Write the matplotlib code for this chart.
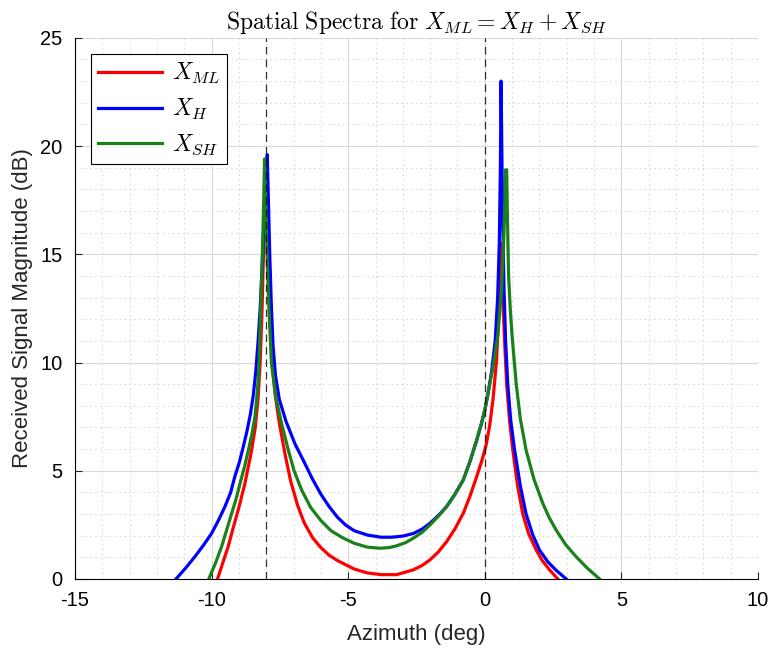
import matplotlib
matplotlib.use('Agg')
import matplotlib.pyplot as plt
from matplotlib.ticker import MultipleLocator

plt.rcParams['font.family'] = ['Liberation Sans', 'DejaVu Sans']
plt.rcParams['mathtext.fontset'] = 'cm'
plt.rcParams['axes.unicode_minus'] = False

# точки (азимут в градусах, уровень в дБ)
az_ml = [-9.78, -9.6, -9.39, -9.2, -9.0, -8.78, -8.54, -8.4, -8.3, -8.22, -8.15, -8.1,
         -8.04, -8.0, -7.96, -7.92, -7.86, -7.78, -7.68, -7.52, -7.3, -7.1, -6.85, -6.61,
         -6.3, -6.0, -5.7, -5.39, -4.78, -4.3, -3.8, -3.23, -2.62, -2.3, -2.01, -1.7,
         -1.4, -1.1, -0.79, -0.55, -0.3, -0.1, 0.05, 0.18, 0.3, 0.43, 0.5, 0.55,
         0.6, 0.64, 0.68, 0.73, 0.8, 0.9, 1.02, 1.2, 1.39, 1.6, 1.88, 2.1, 2.37, 2.67]
mag_ml = [0.0, 0.7, 1.5, 2.4, 3.3, 4.4, 5.9, 7.0, 8.3, 10.0, 12.5, 15.0,
          17.5, 18.3, 17.0, 14.5, 12.0, 10.0, 8.6, 7.2, 5.7, 4.5, 3.4, 2.6,
          1.9, 1.45, 1.1, 0.85, 0.46, 0.28, 0.2, 0.2, 0.42, 0.62, 0.88, 1.25,
          1.72, 2.3, 3.03, 3.8, 4.72, 5.5, 6.2, 7.1, 8.3, 10.1, 12.0, 14.0,
          15.5, 14.0, 12.3, 10.8, 9.0, 7.4, 6.0, 4.3, 3.0, 2.1, 1.34, 0.85, 0.42, 0.0]

az_h = [-11.3, -10.95, -10.61, -10.3, -10.0, -9.75, -9.51, -9.3, -9.15, -8.98, -8.84,
        -8.7, -8.58, -8.47, -8.38, -8.3, -8.22, -8.15, -8.08, -8.02, -7.96, -7.92,
        -7.87, -7.81, -7.75, -7.66, -7.52, -7.28, -6.95, -6.61, -6.3, -6.0, -5.7, -5.39,
        -5.1, -4.78, -4.3, -3.8, -3.4, -3.0, -2.62, -2.3, -2.01, -1.7, -1.4, -1.1,
        -0.79, -0.55, -0.3, -0.12, 0.0, 0.12, 0.25, 0.38, 0.47, 0.53, 0.57, 0.595,
        0.625, 0.655, 0.7, 0.76, 0.84, 0.95, 1.09, 1.3, 1.51, 1.75, 2.0, 2.3, 2.61, 2.98]
mag_h = [0.0, 0.5, 1.03, 1.55, 2.1, 2.7, 3.34, 4.0, 4.72, 5.4, 6.1,
         6.85, 7.6, 8.5, 9.6, 10.9, 12.5, 14.4, 16.5, 18.3, 19.6, 17.5,
         15.0, 12.6, 10.8, 9.4, 8.3, 7.3, 6.25, 5.4, 4.6, 3.92, 3.35, 2.85,
         2.5, 2.23, 2.03, 1.93, 1.93, 1.98, 2.1, 2.3, 2.57, 2.93, 3.34, 3.9,
         4.57, 5.4, 6.4, 7.2, 7.8, 8.57, 9.6, 11.0, 13.0, 15.5, 19.0, 23.0,
         19.5, 16.5, 13.5, 11.0, 9.0, 7.3, 5.95, 4.3, 3.0, 2.05, 1.34, 0.8, 0.4, 0.0]

az_sh = [-10.1, -9.85, -9.63, -9.45, -9.27, -9.1, -8.96, -8.8, -8.66, -8.52, -8.41,
         -8.32, -8.26, -8.2, -8.14, -8.09, -8.06, -8.02, -7.97, -7.9, -7.81, -7.66,
         -7.46, -7.2, -6.98, -6.7, -6.37, -6.0, -5.63, -5.2, -4.78, -4.3, -3.84, -3.5,
         -3.23, -2.9, -2.62, -2.3, -2.01, -1.7, -1.4, -1.1, -0.79, -0.55, -0.3, -0.12,
         0.0, 0.15, 0.3, 0.48, 0.62, 0.7, 0.74, 0.76, 0.8, 0.83, 0.87, 0.93, 1.0,
         1.15, 1.3, 1.51, 1.8, 2.12, 2.35, 2.61, 2.95, 3.34, 3.75, 4.2]
mag_sh = [0.0, 0.75, 1.5, 2.25, 3.0, 3.7, 4.4, 5.15, 5.9, 6.7, 7.5,
          8.7, 10.0, 12.5, 15.0, 17.5, 19.4, 17.5, 15.0, 12.5, 10.0, 8.5,
          7.3, 6.0, 5.0, 4.1, 3.3, 2.7, 2.23, 1.9, 1.65, 1.47, 1.42, 1.45,
          1.53, 1.68, 1.88, 2.15, 2.49, 2.9, 3.34, 3.9, 4.57, 5.4, 6.4, 7.2,
          7.8, 8.8, 9.8, 11.3, 13.5, 16.0, 17.8, 18.9, 18.9, 16.5, 14.0, 12.5, 11.2,
          9.0, 7.4, 5.95, 4.6, 3.5, 2.85, 2.26, 1.6, 1.03, 0.5, 0.0]

targets = [-8, 0]

fig = plt.figure(figsize=(7.72, 6.52), dpi=100)
ax = fig.add_axes([0.097, 0.112, 0.885, 0.830])

ax.plot(az_ml, mag_ml, color=(1, 0, 0), lw=2.3, label=r'$X_{ML}$')
ax.plot(az_h, mag_h, color=(0, 0, 1), lw=2.3, label=r'$X_H$')
ax.plot(az_sh, mag_sh, color=(0.1, 0.5, 0.1), lw=2.3, label=r'$X_{SH}$')
for t in targets:
    ax.axvline(t, color='k', ls=(0, (6, 4)), lw=0.9, alpha=0.8)

ax.set_xlim(-15, 10)
ax.set_ylim(0, 25)
ax.xaxis.set_major_locator(MultipleLocator(5))
ax.yaxis.set_major_locator(MultipleLocator(5))
ax.xaxis.set_minor_locator(MultipleLocator(1))
ax.yaxis.set_minor_locator(MultipleLocator(1))
ax.grid(True, which='major', color='#d9d9d9', lw=0.8)
ax.grid(True, which='minor', color='#dcdcdc', lw=0.7, ls=(0, (2, 3)))
ax.set_axisbelow(True)
ax.spines['top'].set_visible(False)
ax.spines['right'].set_visible(False)
ax.tick_params(which='both', direction='in', labelsize=14.5, color='#262626')
ax.tick_params(which='major', length=5, pad=9)
ax.tick_params(which='minor', length=0)

ax.set_title(r'$\mathrm{Spatial\ Spectra\ for}\ X_{ML} = X_H + X_{SH}$', fontsize=17, pad=6)
ax.set_xlabel('Azimuth (deg)', fontsize=16, color='#262626', labelpad=10)
ax.set_ylabel('Received Signal Magnitude (dB)', fontsize=16, color='#262626', labelpad=5)

leg = ax.legend(loc='upper left', fontsize=17, handlelength=2.7, framealpha=1,
                fancybox=False, edgecolor='k', borderaxespad=0.7, labelspacing=0.45,
                handletextpad=0.4, borderpad=0.3)
leg.get_frame().set_linewidth(0.8)

fig.savefig('out.png', dpi=100)
